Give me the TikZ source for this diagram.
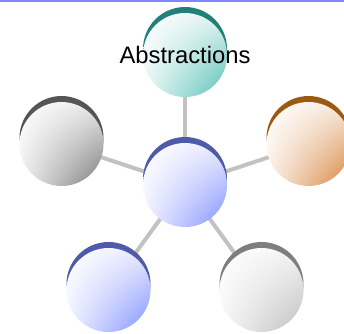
\documentclass[tikz,border=0pt]{standalone}
\usepackage{fontspec}
\setmainfont{Liberation Sans}
\usetikzlibrary{shadings}
\begin{document}
\begin{tikzpicture}[x=1pt,y=-1pt,
  link/.style={draw=black!24, line width=4pt},
  ball/.style={circle, minimum size=84pt, inner sep=0pt},
  lbl/.style={font=\fontsize{23.8}{26}\selectfont, text=black}]
\definecolor{topline}{HTML}{7F86FF}
\definecolor{tealD}{HTML}{218079}\definecolor{tealL}{HTML}{55BFB5}
\definecolor{grayD}{HTML}{555555}\definecolor{grayL}{HTML}{7A7A7A}
\definecolor{brownD}{HTML}{9A5A12}\definecolor{brownL}{HTML}{D6833C}
\definecolor{blueD}{HTML}{4F5AA8}\definecolor{blueL}{HTML}{7F90FF}
\definecolor{lgrayD}{HTML}{7E7E7E}\definecolor{lgrayL}{HTML}{BEBEBE}
\useasboundingbox (0,0) rectangle (344,333);
\fill[topline] (0,0) rectangle (344,1.5);
\coordinate (C) at (185,185);
\coordinate (T) at (185,55);
\coordinate (UL) at (61.5,144);
\coordinate (UR) at (308.5,144);
\coordinate (LL) at (108.5,290);
\coordinate (LR) at (261.5,290);
\foreach \p in {T,UL,UR,LL,LR} \draw[link] (C) -- (\p);
\newcommand{\myball}[4]{%
  \node[ball, fill=#3] (#1c) at ([yshift=6pt]#2) {};
  \node[ball, shade, upper left=white, lower left=white!88!#4, upper right=white!82!#4, lower right=#4] (#1) at (#2) {};
}
\myball{t}{T}{tealD}{tealL}
\myball{ul}{UL}{grayD}{grayL}
\myball{ur}{UR}{brownD}{brownL}
\myball{c}{C}{blueD}{blueL}
\myball{ll}{LL}{blueD}{blueL}
\myball{lr}{LR}{lgrayD}{lgrayL}
\node[lbl] (tl) at (T) {Abstractions};
\end{tikzpicture}
\end{document}
